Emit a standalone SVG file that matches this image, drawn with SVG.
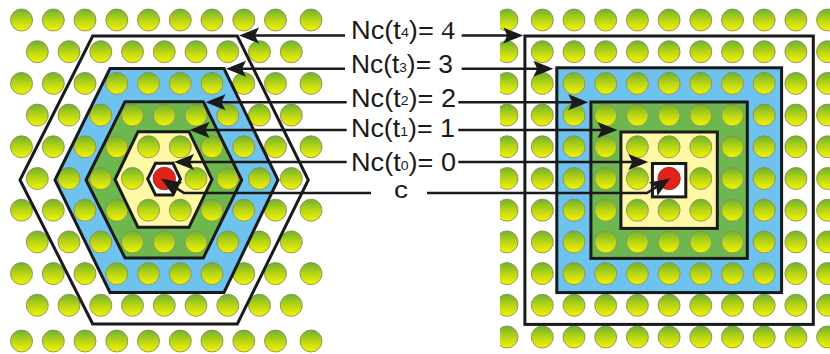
<svg xmlns="http://www.w3.org/2000/svg" xmlns:xlink="http://www.w3.org/1999/xlink" width="830" height="354" viewBox="0 0 830 354">
<style>
.dot{fill:url(#g);stroke:#8d8a66;stroke-width:0.9}
.red{fill:#e0241b;stroke:#b01810;stroke-width:0.6}
.outline{fill:none;stroke:#1a1a1a;stroke-width:3;stroke-linejoin:miter}
.conn{fill:none;stroke:#1a1a1a;stroke-width:2.6;marker-end:url(#ah)}
.lbl{font-family:"Liberation Sans",Arial,sans-serif;font-size:25px;fill:#1a1a1a}
.sub{font-size:13px}
.serif{font-family:"Liberation Serif","Times New Roman",serif}
</style>
<defs>
<linearGradient id="g" x1="0" y1="0" x2="0" y2="1">
<stop offset="0" stop-color="#6cb22e"/>
<stop offset="0.5" stop-color="#b8d515"/>
<stop offset="1" stop-color="#f4f400"/>
</linearGradient>
<circle id="d" r="11" class="dot"/>
<g id="rowA">
<use xlink:href="#d" x="21.5"/><use xlink:href="#d" x="53.3"/><use xlink:href="#d" x="85"/><use xlink:href="#d" x="116.8"/><use xlink:href="#d" x="148.5"/><use xlink:href="#d" x="180.3"/><use xlink:href="#d" x="212"/><use xlink:href="#d" x="243.8"/><use xlink:href="#d" x="275.5"/><use xlink:href="#d" x="311"/>
</g>
<g id="rowB">
<use xlink:href="#d" x="37.3"/><use xlink:href="#d" x="69"/><use xlink:href="#d" x="100.8"/><use xlink:href="#d" x="132.5"/><use xlink:href="#d" x="164.3"/><use xlink:href="#d" x="196"/><use xlink:href="#d" x="227.8"/><use xlink:href="#d" x="259.5"/><use xlink:href="#d" x="291.3"/>
</g>
<g id="rowC">
<use xlink:href="#d" x="507"/><use xlink:href="#d" x="542.3"/><use xlink:href="#d" x="574"/><use xlink:href="#d" x="605.7"/><use xlink:href="#d" x="637.4"/><use xlink:href="#d" x="669.1"/><use xlink:href="#d" x="700.8"/><use xlink:href="#d" x="732.5"/><use xlink:href="#d" x="764.2"/><use xlink:href="#d" x="795.9"/><use xlink:href="#d" x="827.6"/>
</g>
<clipPath id="clipR"><rect x="500" y="0" width="330" height="354"/></clipPath>
<marker id="ah" markerUnits="userSpaceOnUse" markerWidth="22" markerHeight="18" refX="15" refY="9" orient="auto">
<path d="M21,9 L1,1 L5,9 L1,17 Z" fill="#1a1a1a"/>
</marker>
</defs>

<rect width="830" height="354" fill="#ffffff"/>

<!-- Left: hexagonal regions -->
<g id="left-regions">
<polygon id="fill-hex-t3" points="55,180 110,68.5 224,68.5 278,180 224,292.5 110,292.5" fill="#6ec3ee"/>
<polygon id="fill-hex-t2" points="86,180 125,101.7 203.3,101.7 241.7,180 203.3,258 125,258" fill="#6cb84f"/>
<polygon id="fill-hex-t1" points="115,179.5 138,131.7 189,131.7 212,179.5 189,227.3 138,227.3" fill="#fff9a6"/>
<polygon id="fill-hex-t0" points="147.7,179 155.5,163.3 173,163.3 180.5,179 173,195 155.5,195" fill="#ffffff"/>
</g>
<g id="left-lattice">
<use xlink:href="#rowA" y="20"/>
<use xlink:href="#rowB" y="51.7"/>
<use xlink:href="#rowA" y="83.4"/>
<use xlink:href="#rowB" y="115.1"/>
<use xlink:href="#rowA" y="146.8"/>
<use xlink:href="#rowB" y="178.5"/>
<use xlink:href="#rowA" y="210.2"/>
<use xlink:href="#rowB" y="241.9"/>
<use xlink:href="#rowA" y="273.6"/>
<use xlink:href="#rowB" y="305.3"/>
<use xlink:href="#rowA" y="341"/>
<circle id="center-left" cx="164.3" cy="178.5" r="11.2" class="red"/>
</g>
<g id="left-hexagons">
<g id="hex-t4"><polygon class="outline" points="20,180 92.7,36 237.3,36 308.3,180 237.3,324 92.7,324"/></g>
<g id="hex-t3"><polygon class="outline" points="55,180 110,68.5 224,68.5 278,180 224,292.5 110,292.5"/></g>
<g id="hex-t2"><polygon class="outline" points="86,180 125,101.7 203.3,101.7 241.7,180 203.3,258 125,258"/></g>
<g id="hex-t1"><polygon class="outline" points="115,179.5 138,131.7 189,131.7 212,179.5 189,227.3 138,227.3"/></g>
<g id="hex-t0"><polygon class="outline" points="147.7,179 155.5,163.3 173,163.3 180.5,179 173,195 155.5,195"/></g>
</g>

<!-- Right: square regions -->
<g id="right-regions">
<rect id="fill-sq-t3" x="556.8" y="67.8" width="224.8" height="224.8" fill="#6ec3ee"/>
<rect id="fill-sq-t2" x="590.9" y="102" width="156.4" height="156.4" fill="#6cb84f"/>
<rect id="fill-sq-t1" x="620.9" y="132" width="96.4" height="96.4" fill="#fff9a6"/>
<rect id="fill-sq-t0" x="652.4" y="163.5" width="33.4" height="33.4" fill="#ffffff"/>
</g>
<g id="right-lattice" clip-path="url(#clipR)">
<use xlink:href="#rowC" y="20"/>
<use xlink:href="#rowC" y="51.7"/>
<use xlink:href="#rowC" y="83.4"/>
<use xlink:href="#rowC" y="115.1"/>
<use xlink:href="#rowC" y="146.8"/>
<use xlink:href="#rowC" y="178.5"/>
<use xlink:href="#rowC" y="210.2"/>
<use xlink:href="#rowC" y="241.9"/>
<use xlink:href="#rowC" y="273.6"/>
<use xlink:href="#rowC" y="305.3"/>
<use xlink:href="#rowC" y="337"/>
</g>
<circle id="center-right" cx="669.1" cy="178.5" r="11.2" class="red"/>
<g id="right-squares">
<g id="sq-t4"><rect class="outline" x="524.9" y="36" width="288.4" height="288.4"/></g>
<g id="sq-t3"><rect class="outline" x="556.8" y="67.8" width="224.8" height="224.8"/></g>
<g id="sq-t2"><rect class="outline" x="590.9" y="102" width="156.4" height="156.4"/></g>
<g id="sq-t1"><rect class="outline" x="620.9" y="132" width="96.4" height="96.4"/></g>
<g id="sq-t0"><rect class="outline" x="652.4" y="163.5" width="33.4" height="33.4"/></g>
</g>

<!-- Connectors -->
<g id="connectors">
<path class="conn" d="M345,35.5 H245"/>
<path class="conn" d="M345,68.8 H232"/>
<path class="conn" d="M346.7,102.2 H211.5"/>
<path class="conn" d="M346.7,130 H195.5"/>
<path class="conn" d="M346.7,162 H180"/>
<path class="conn" d="M461.7,35.5 H517.3"/>
<path class="conn" d="M461.7,68.8 H547.3"/>
<path class="conn" d="M458.3,102.2 H582.3"/>
<path class="conn" d="M458.3,130 H611.5"/>
<path class="conn" d="M458.3,162 H642.3"/>
<path class="conn" d="M371,193 H184 L166.1,181.7"/>
<path class="conn" d="M427,193 H647 L664.9,181.7"/>
</g>

<!-- Labels -->
<g id="labels">
<g id="label-t4"><text class="lbl" x="351" y="38.8" textLength="104" lengthAdjust="spacingAndGlyphs">Nc(t<tspan class="sub" dy="-1.5">4</tspan><tspan dy="1.5">)= </tspan><tspan class="serif">4</tspan></text></g>
<g id="label-t3"><text class="lbl" x="351" y="73.3" textLength="102" lengthAdjust="spacingAndGlyphs">Nc(t<tspan class="sub" dy="-1.5">3</tspan><tspan dy="1.5">)= 3</tspan></text></g>
<g id="label-t2"><text class="lbl" x="351" y="106.7" textLength="105" lengthAdjust="spacingAndGlyphs">Nc(t<tspan class="sub" dy="-1.5">2</tspan><tspan dy="1.5">)= 2</tspan></text></g>
<g id="label-t1"><text class="lbl" x="351" y="137" textLength="104" lengthAdjust="spacingAndGlyphs">Nc(t<tspan class="sub" dy="-1.5">1</tspan><tspan dy="1.5">)= 1</tspan></text></g>
<g id="label-t0"><text class="lbl" x="351" y="171" textLength="105" lengthAdjust="spacingAndGlyphs">Nc(t<tspan class="sub" dy="-1.5">0</tspan><tspan dy="1.5">)= 0</tspan></text></g>
<g id="label-c"><text class="lbl" x="394" y="197.5" style="font-size:23px" textLength="14" lengthAdjust="spacingAndGlyphs">c</text></g>
</g>
</svg>
